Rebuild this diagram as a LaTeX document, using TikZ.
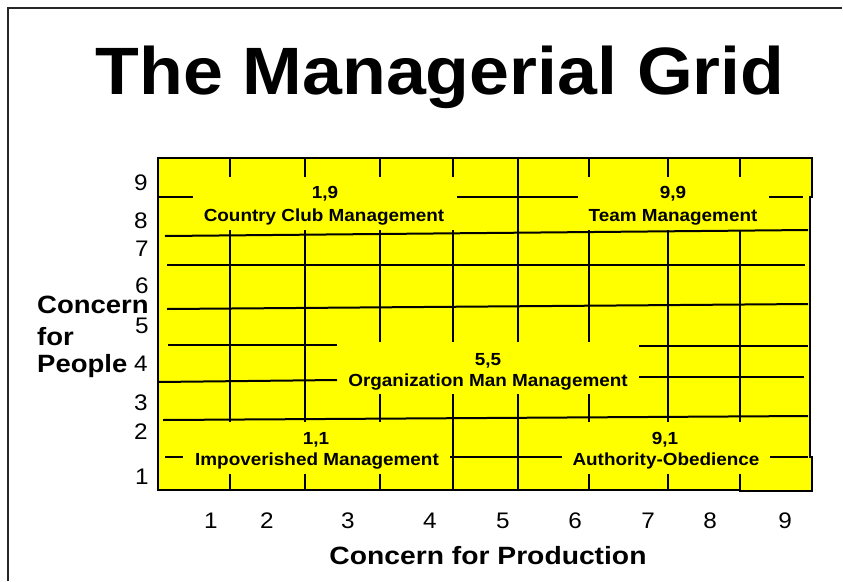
\documentclass[tikz,border=0pt]{standalone}
\usepackage{fontspec}
\setmainfont{Liberation Sans}
\usepackage{graphicx}
\definecolor{ylw}{RGB}{255,255,0}
\newcommand\hs[2][1.08]{\scalebox{#1}[1]{#2}}
\begin{document}
\begin{tikzpicture}[x=1pt,y=-1pt,
  lbl/.style={font=\fontsize{17.5}{20}\selectfont\bfseries, inner sep=0pt, anchor=base},
  dig/.style={font=\fontsize{22.5}{24}\selectfont, inner sep=0pt, anchor=base},
  axt/.style={font=\fontsize{25}{28}\selectfont\bfseries, inner sep=0pt, anchor=base},
  gl/.style={line width=2.4pt, black},
  hl/.style={line width=2pt, black}]
\useasboundingbox (0,0) rectangle (843,581);
% frame
\draw[line width=1.5pt, black!85] (8,581) -- (8,8) -- (842,8);
% title
\node[inner sep=0pt, anchor=base, font=\fontsize{67}{70}\selectfont\bfseries] (title) at (440,94) {\hs[1.07]{The Managerial Grid}};
% yellow area
\fill[ylw] (158,158) rectangle (810,490);
\fill[ylw] (742,157) rectangle (812,197);
\fill[ylw] (740,457) rectangle (812,491);
\draw[line width=2pt, line join=miter] (158,158) -- (812,158) -- (812,197) -- (810,197) -- (810,457) -- (812,457) -- (812,491) -- (740,491) -- (740,490) -- (158,490) -- cycle;
% vertical lines
\foreach \x in {230,305,380,453,589,668,740} \draw[gl] (\x,158) -- (\x,177);
\draw[gl] (230,230) -- (230,422);
\draw[gl] (305,230) -- (305,422);
\draw[gl] (380,230) -- (380,342);
\draw[gl] (380,394) -- (380,422);
\draw[gl] (453,230) -- (453,342);
\draw[gl] (453,394) -- (453,490);
\draw[gl] (518,158) -- (518,342);
\draw[gl] (518,394) -- (518,490);
\draw[gl] (589,230) -- (589,342);
\draw[gl] (589,394) -- (589,422);
\draw[gl] (668,230) -- (668,422);
\draw[gl] (740,230) -- (740,422);
\foreach \x in {230,305,380,589,668,740} \draw[gl] (\x,474) -- (\x,490);
% horizontal lines
\draw[hl] (158,197) -- (193,197);
\draw[hl] (457,197) -- (578,197);
\draw[hl] (769,197) -- (803,197);
\draw[hl] (165,236) -- (808,230);
\draw[hl] (167,265) -- (805,265);
\draw[hl] (167,309) -- (808,304);
\draw[hl] (168,345) -- (337,345);
\draw[hl] (639,346) -- (808,346);
\draw[hl] (158,382) -- (337,380);
\draw[hl] (639,377) -- (804,377);
\draw[hl] (163,420) -- (808,416);
\draw[hl] (165,457) -- (183,457);
\draw[hl] (450,457) -- (562,457);
\draw[hl] (770,457) -- (808,457);
% quadrant labels
\node[lbl] (q19a) at (325,198) {\hs{1,9}};
\node[lbl] (q19b) at (324,221) {\hs{Country Club Management}};
\node[lbl] (q99a) at (673,198) {\hs{9,9}};
\node[lbl] (q99b) at (673,221) {\hs{Team Management}};
\node[lbl] (q55a) at (488,365) {\hs{5,5}};
\node[lbl] (q55b) at (488,386) {\hs{Organization Man Management}};
\node[lbl] (q11a) at (316,444) {\hs{1,1}};
\node[lbl] (q11b) at (317,465) {\hs{Impoverished Management}};
\node[lbl] (q91a) at (665,444) {\hs{9,1}};
\node[lbl] (q91b) at (666,465) {\hs{Authority-Obedience}};
% left axis digits
\node[dig] (l9) at (141,190) {\hs{9}};
\node[dig] (l8) at (141,228) {\hs{8}};
\node[dig] (l7) at (142,256) {\hs{7}};
\node[dig] (l6) at (142,293) {\hs{6}};
\node[dig] (l5) at (142,333) {\hs{5}};
\node[dig] (l4) at (141,371) {\hs{4}};
\node[dig] (l3) at (141,410) {\hs{3}};
\node[dig] (l2) at (141,439) {\hs{2}};
\node[dig] (l1) at (142,484) {\hs{1}};
% bottom axis digits
\node[dig] (b1) at (211,528) {\hs{1}};
\node[dig] (b2) at (267,528) {\hs{2}};
\node[dig] (b3) at (348,528) {\hs{3}};
\node[dig] (b4) at (430,528) {\hs{4}};
\node[dig] (b5) at (503,528) {\hs{5}};
\node[dig] (b6) at (575,528) {\hs{6}};
\node[dig] (b7) at (648,528) {\hs{7}};
\node[dig] (b8) at (710,528) {\hs{8}};
\node[dig] (b9) at (785,528) {\hs{9}};
% axis titles
\node[axt] (xt) at (488,564) {\hs[1.13]{Concern for Production}};
\node[axt, anchor=base west] (yt1) at (37,313) {\hs[1.1]{Concern}};
\node[axt, anchor=base west] (yt2) at (37,345) {\hs[1.1]{for}};
\node[axt, anchor=base west] (yt3) at (37,372) {\hs[1.1]{People}};
\end{tikzpicture}
\end{document}
